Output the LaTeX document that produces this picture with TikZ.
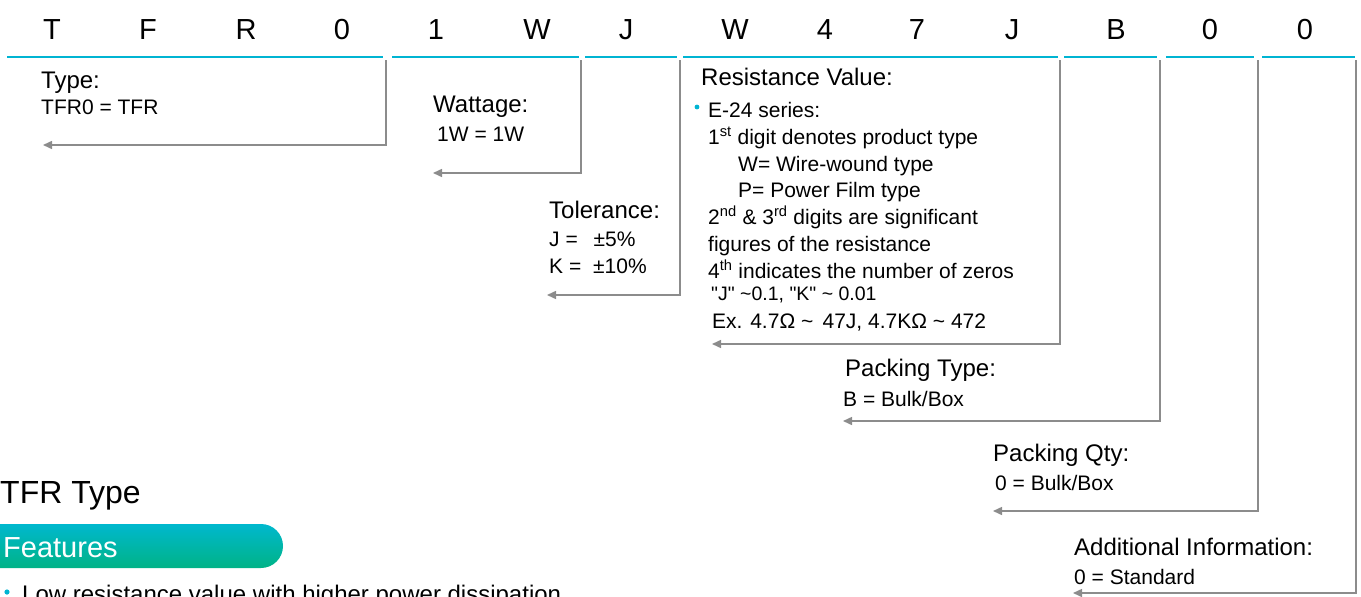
\documentclass[tikz,border=0pt]{standalone}
\usepackage{fontspec}
\setmainfont{Liberation Sans}[Ligatures=TeXOff]
\usetikzlibrary{arrows.meta}

\definecolor{codeblue}{HTML}{00B4D2}
\definecolor{leadgray}{HTML}{8C8C8C}
\definecolor{barcyan}{HTML}{00B8CE}
\definecolor{bargreen}{HTML}{00B386}

\tikzset{
  letter/.style={anchor=base, inner sep=0pt, font=\fontsize{29}{29}\selectfont},
  head/.style={anchor=base west, inner sep=0pt, font=\fontsize{24}{24}\selectfont},
  val/.style={anchor=base west, inner sep=0pt, font=\fontsize{21}{21}\selectfont},
  codeline/.style={codeblue, line width=2.2pt},
  lead/.style={leadgray, line width=1.5pt, -{Triangle[length=9pt, width=8pt]}},
}

\begin{document}
\begin{tikzpicture}[x=1pt, y=-1pt, line cap=butt, line join=miter]
    \useasboundingbox (0,0) rectangle (1361,597);

    % Code letters on top
    \node[letter] (l1)  at (52,39)   {T};
    \node[letter] (l2)  at (148,39)  {F};
    \node[letter] (l3)  at (246,39)  {R};
    \node[letter] (l4)  at (342,39)  {0};
    \node[letter] (l5)  at (436,39)  {1};
    \node[letter] (l6)  at (537,39)  {W};
    \node[letter] (l7)  at (626,39)  {J};
    \node[letter] (l8)  at (735,39)  {W};
    \node[letter] (l9)  at (825,39)  {4};
    \node[letter] (l10) at (917,39)  {7};
    \node[letter] (l11) at (1012,39) {J};
    \node[letter] (l12) at (1116,39) {B};
    \node[letter] (l13) at (1210,39) {0};
    \node[letter] (l14) at (1305,39) {0};

    % Blue underlines, one per field
    \draw[codeline] (7,57) -- (383,57);
    \draw[codeline] (392,57) -- (579,57);
    \draw[codeline] (585,57) -- (677,57);
    \draw[codeline] (683,57) -- (1058,57);
    \draw[codeline] (1064,57) -- (1157,57);
    \draw[codeline] (1166,57) -- (1254,57);
    \draw[codeline] (1262,57) -- (1355,57);

    % Field texts
    \node[head] (type)  at (41,88)  {Type:};
    \node[val]  (typev) at (41,114) {TFR0 = TFR};

    \node[head] (watt)  at (433,112) {Wattage:};
    \node[val]  (wattv) at (437,141) {1W = 1W};

    \node[head] (tol)   at (549,218) {Tolerance:};
    \node[val]  (tolj)  at (549,246) {J = \hspace{10pt}±5\%};
    \node[val]  (tolk)  at (549,273) {K = \hspace{6pt}±10\%};

    \node[head] (res)   at (701,85)  {Resistance Value:};
    \fill[codeblue] (697,107) circle (2.4);
    \node[val] (res1) at (708,117) {E-24 series:};
    \node[val] (res2) at (708,144) {1\textsuperscript{st} digit denotes product type};
    \node[val] (res3) at (738,171) {W= Wire-wound type};
    \node[val] (res4) at (738,197) {P= Power Film type};
    \node[val] (res5) at (708,224) {2\textsuperscript{nd} \& 3\textsuperscript{rd} digits are significant};
    \node[val] (res6) at (708,251) {figures of the resistance};
    \node[val] (res7) at (708,278) {4\textsuperscript{th} indicates the number of zeros};
    \node[val, font=\fontsize{19.5}{19.5}\selectfont] (res8) at (711,300) {"J" \textasciitilde0.1, "K" \textasciitilde\ 0.01};
    \node[val] (res9) at (712,328) {Ex. 4.7Ω \textasciitilde\ \,47J, 4.7KΩ \textasciitilde\ 472};

    \node[head] (pack)  at (845,376) {Packing Type:};
    \node[val]  (packv) at (843,406) {B = Bulk/Box};

    \node[head] (qty)   at (993,461) {Packing Qty:};
    \node[val]  (qtyv)  at (995,490) {0 = Bulk/Box};

    \node[head] (add)   at (1074,555) {Additional Information:};
    \node[val]  (addv)  at (1074,584) {0 = Standard};

    % Leader lines from each field
    \coordinate (t1) at (386,60);  \coordinate (e1) at (43,145);
    \coordinate (t2) at (581,60);  \coordinate (e2) at (433,173);
    \coordinate (t3) at (680,60);  \coordinate (e3) at (547,295);
    \coordinate (t4) at (1060,60); \coordinate (e4) at (712,344);
    \coordinate (t5) at (1160,60); \coordinate (e5) at (843,421);
    \coordinate (t6) at (1258,60); \coordinate (e6) at (993,511);
    \coordinate (t7) at (1356,60); \coordinate (e7) at (1073,593);
    \foreach \i in {1,...,7}
        \draw[lead] (t\i) |- (e\i);

    % Lower section
    \node[anchor=base west, inner sep=0pt, font=\fontsize{32}{32}\selectfont] (tfrtype) at (0,503) {TFR Type};
    \shade[top color=barcyan, bottom color=bargreen, rounded corners=22pt] (-40,524) rectangle (283,568);
    \node[anchor=base west, inner sep=0pt, text=white, font=\fontsize{29}{29}\selectfont] (feat) at (3,557) {Features};
    \fill[codeblue] (7,592) circle (2.6);
    \node[anchor=base west, inner sep=0pt, font=\fontsize{24}{24}\selectfont] (feat1) at (22,602) {Low resistance value with higher power dissipation};
\end{tikzpicture}
\end{document}
